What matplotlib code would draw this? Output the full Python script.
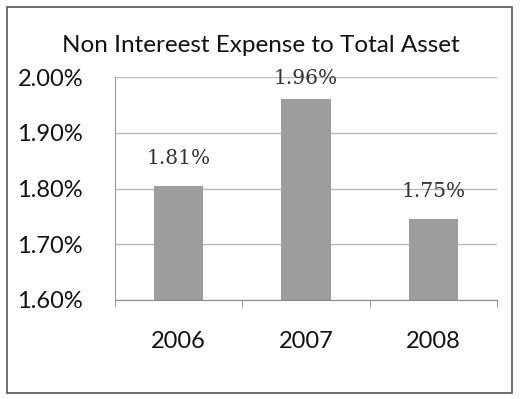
import matplotlib.pyplot as plt
from matplotlib.patches import Rectangle
from matplotlib.ticker import FuncFormatter

years = ["2006", "2007", "2008"]
ratios = [1.805, 1.96, 1.745]
labels = ["1.81%", "1.96%", "1.75%"]
yticks = [1.60, 1.70, 1.80, 1.90, 2.00]

fig = plt.figure(figsize=(5.29, 3.99), dpi=100)
fig.patch.set_facecolor("white")

# chart frame
fig.patches.append(Rectangle((7 / 529, 6 / 399), 505 / 529, 386 / 399,
                             transform=fig.transFigure, fill=False,
                             edgecolor="#555555", lw=1.2))

ax = fig.add_axes([115 / 529, 1 - 300 / 399, 382 / 529, 223 / 399])
x = range(len(years))
ax.bar(x, ratios, width=0.39, color="#9d9d9d", zorder=2)

ax.set_ylim(1.60, 2.00)
ax.set_xlim(-0.5, 2.5)
ax.set_yticks(yticks)
ax.yaxis.set_major_formatter(FuncFormatter(lambda v, p: f"{v:.2f}%"))
ax.grid(axis="y", color="#b8b8b8", lw=1, zorder=0)

ax.set_xticks(x)
ax.set_xticklabels(years, fontsize=17, family="Lato", color="#111111")
ax.set_xticks([-0.5, 0.5, 1.5, 2.5], minor=True)
ax.tick_params(axis="x", which="major", length=0, pad=22)
ax.tick_params(axis="x", which="minor", length=5, color="#888888")
ax.tick_params(axis="y", length=0, pad=23, labelsize=17, labelcolor="#111111")
for t in ax.get_yticklabels():
    t.set_family("Lato")

for s in ["top", "right"]:
    ax.spines[s].set_visible(False)
ax.spines["left"].set_color("#999999")
ax.spines["bottom"].set_color("#888888")

# value labels above each bar
offsets = [0.048, 0.037, 0.05]
for i, (v, lab) in enumerate(zip(ratios, labels)):
    ax.text(i, v + offsets[i], lab, ha="center", va="center",
            fontsize=14.5, family="DejaVu Serif", color="#333333",
            clip_on=False)

fig.text(261 / 529, 1 - 45 / 399, "Non Intereest Expense to Total Asset",
         ha="center", va="center", fontsize=17.5, family="Lato", color="#111111")

fig.savefig("out.png", dpi=100)
